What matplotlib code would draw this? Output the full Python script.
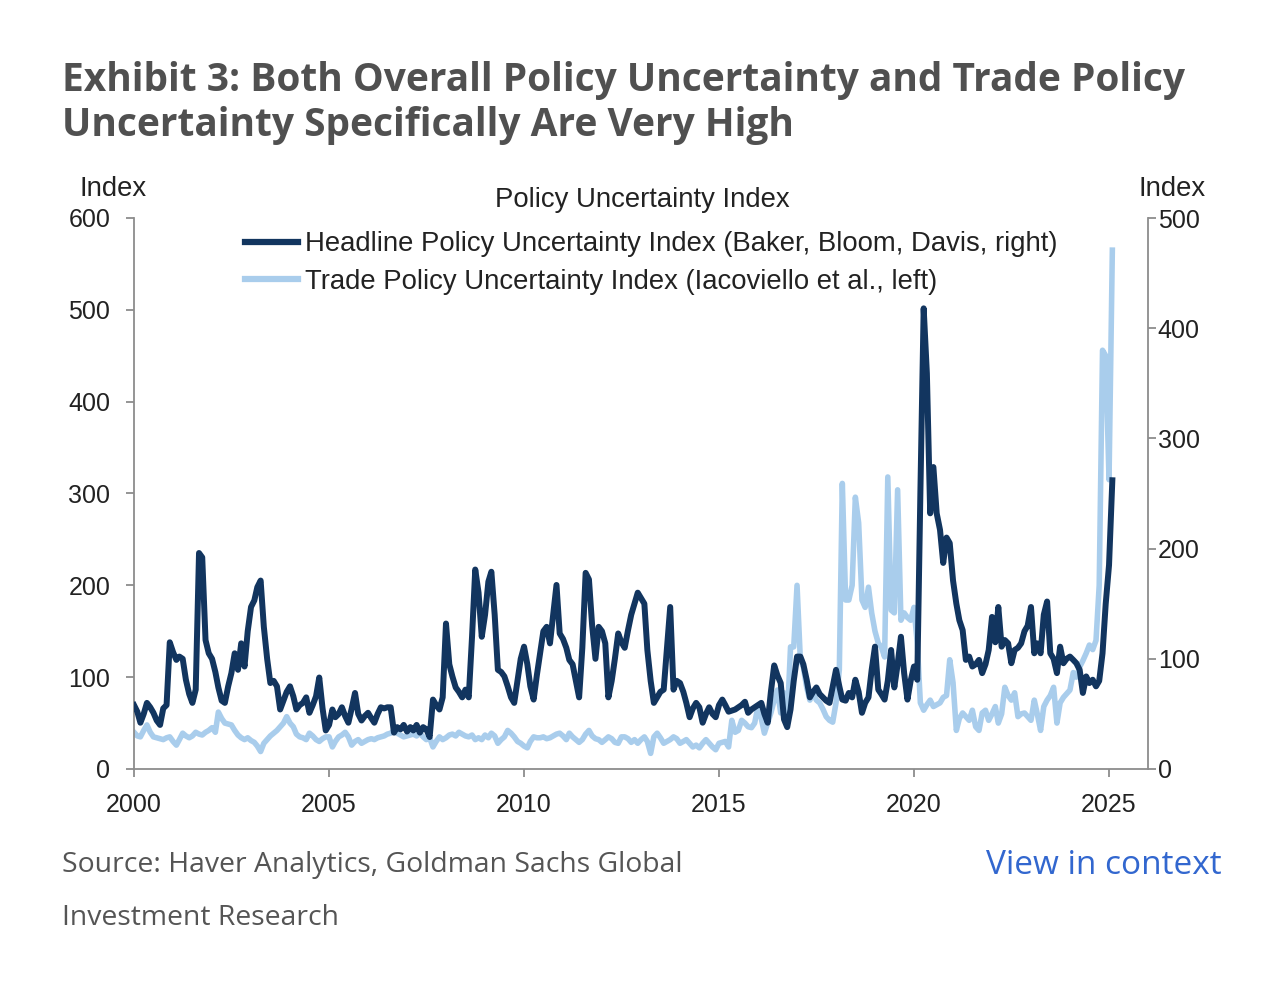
import numpy as np
import pandas as pd
import matplotlib
matplotlib.use("Agg")
import matplotlib.pyplot as plt
import matplotlib.dates as mdates
from matplotlib.lines import Line2D

# ---------------- data (monthly, Jan 2000 - Feb 2025) ----------------
# Headline Policy Uncertainty Index (Baker, Bloom, Davis) - right axis
headline = (
    [58, 52, 42, 50, 60, 56, 51, 44, 40, 55, 58, 115] +          # 2000
    [106, 99, 102, 100, 81, 68, 60, 72, 196, 192, 117, 105] +    # 2001
    [100, 88, 74, 62, 60, 75, 87, 105, 90, 114, 93, 125] +       # 2002
    [147, 153, 165, 171, 129, 100, 78, 80, 75, 54, 62, 70] +     # 2003
    [75, 66, 54, 58, 60, 65, 51, 58, 66, 83, 55, 35] +           # 2004
    [40, 54, 47, 50, 56, 48, 42, 55, 69, 50, 44, 48] +           # 2005
    [51, 46, 42, 50, 56, 55, 56, 56, 33, 38, 36, 40] +           # 2006
    [34, 38, 35, 40, 33, 38, 36, 29, 63, 58, 54, 65] +           # 2007
    [132, 95, 84, 74, 70, 65, 72, 65, 120, 181, 160, 120] +      # 2008
    [140, 170, 179, 140, 90, 88, 84, 75, 65, 60, 80, 100] +      # 2009
    [111, 95, 75, 63, 85, 105, 125, 129, 114, 140, 167, 123] +   # 2010
    [118, 110, 99, 95, 80, 65, 110, 178, 172, 130, 100, 129] +   # 2011
    [125, 114, 65, 80, 100, 123, 115, 110, 126, 140, 150, 160] + # 2012
    [155, 150, 108, 80, 60, 65, 70, 72, 110, 147, 72, 80] +      # 2013
    [78, 70, 60, 47, 55, 60, 56, 42, 50, 56, 50, 47] +           # 2014
    [58, 63, 58, 52, 53, 54, 56, 58, 61, 51, 54, 56] +           # 2015
    [58, 60, 50, 42, 70, 94, 85, 78, 45, 38, 54, 80] +           # 2016
    [102, 102, 95, 81, 65, 70, 74, 68, 65, 62, 60, 75] +         # 2017
    [90, 75, 63, 62, 69, 65, 81, 70, 51, 60, 65, 90] +           # 2018
    [111, 72, 68, 63, 80, 108, 74, 95, 120, 87, 63, 80] +        # 2019
    [93, 81, 250, 418, 359, 232, 274, 232, 217, 187, 210, 205] + # 2020
    [171, 150, 135, 126, 99, 102, 93, 95, 99, 87, 95, 108] +     # 2021
    [138, 115, 147, 111, 117, 114, 96, 108, 110, 114, 125, 130] +# 2022
    [147, 105, 114, 105, 140, 152, 105, 100, 87, 111, 96, 100] + # 2023
    [102, 99, 96, 90, 69, 84, 78, 81, 75, 80, 105, 150] +        # 2024
    [185, 262]                                                   # 2025
)

# Trade Policy Uncertainty Index (Iacoviello et al.) - left axis
trade = (
    [40, 36, 35, 42, 48, 40, 35, 34, 33, 32, 34, 35] +           # 2000
    [30, 26, 32, 39, 36, 34, 36, 40, 38, 37, 40, 42] +           # 2001
    [45, 40, 62, 55, 50, 49, 48, 42, 37, 34, 32, 34] +           # 2002
    [31, 29, 25, 19, 28, 32, 36, 39, 42, 46, 50, 57] +           # 2003
    [50, 46, 38, 35, 34, 32, 39, 36, 32, 30, 33, 35] +           # 2004
    [35, 24, 30, 35, 37, 40, 35, 26, 30, 32, 28, 30] +           # 2005
    [32, 33, 32, 34, 35, 36, 38, 39, 42, 39, 37, 35] +           # 2006
    [36, 37, 38, 36, 39, 35, 32, 34, 24, 30, 35, 32] +           # 2007
    [34, 37, 38, 36, 40, 38, 36, 35, 37, 32, 34, 32] +           # 2008
    [37, 34, 39, 36, 28, 32, 35, 42, 39, 35, 30, 28] +           # 2009
    [25, 23, 30, 35, 34, 34, 35, 33, 34, 36, 38, 39] +           # 2010
    [36, 32, 39, 35, 32, 29, 32, 38, 42, 36, 33, 32] +           # 2011
    [29, 32, 35, 33, 29, 28, 35, 35, 33, 29, 32, 28] +           # 2012
    [32, 35, 30, 17, 35, 39, 34, 28, 30, 32, 35, 33] +           # 2013
    [28, 30, 32, 28, 24, 26, 23, 28, 32, 28, 24, 21] +           # 2014
    [28, 29, 30, 24, 53, 40, 42, 53, 50, 46, 45, 50] +           # 2015
    [68, 55, 39, 50, 61, 75, 86, 61, 83, 53, 133, 133] +         # 2016
    [200, 119, 111, 89, 75, 83, 75, 72, 65, 57, 53, 51] +        # 2017
    [72, 108, 311, 184, 184, 200, 296, 268, 184, 176, 198, 170] +# 2018
    [150, 137, 133, 122, 318, 173, 170, 304, 162, 170, 165, 162] +# 2019
    [176, 137, 72, 64, 70, 75, 68, 70, 72, 78, 80, 119] +        # 2020
    [94, 42, 55, 61, 57, 53, 64, 46, 42, 61, 64, 53] +           # 2021
    [60, 68, 50, 60, 89, 80, 75, 83, 57, 60, 61, 57] +           # 2022
    [53, 75, 60, 42, 68, 75, 80, 89, 50, 72, 78, 82] +           # 2023
    [86, 105, 100, 111, 118, 126, 135, 130, 140, 200, 456, 450] +# 2024
    [315, 565]                                                   # 2025
)

start_month = "2000-01-01"
left_ticks = [0, 100, 200, 300, 400, 500, 600]
right_ticks = [0, 100, 200, 300, 400, 500]
labels = ["Headline Policy Uncertainty Index (Baker, Bloom, Davis, right)",
          "Trade Policy Uncertainty Index (Iacoviello et al., left)"]

dates = pd.date_range(start_month, periods=len(headline), freq="MS")

# ---------------- styling ----------------
DARK = "#12355f"
LIGHT = "#a9cdec"
GRAY = "#8c8c8c"
TXT = "#222222"
CHART_FONT = ["Liberation Sans", "DejaVu Sans"]
TITLE_FONT = ["Open Sans", "DejaVu Sans"]
FS_TICK = 18
FS = 19.8

plt.rcParams["font.family"] = CHART_FONT

fig = plt.figure(figsize=(12.84, 9.89), dpi=100)
fig.patch.set_facecolor("white")

W, H = 1284, 989
L, R, B, T = 134, 1148, 769, 218
ax = fig.add_axes([L / W, 1 - B / H, (R - L) / W, (B - T) / H])
ax2 = ax.twinx()

ax.plot(dates, trade, color=LIGHT, lw=4.0, solid_joinstyle="round", zorder=2)
ax2.plot(dates, headline, color=DARK, lw=4.3, solid_joinstyle="round", zorder=3)

ax.set_xlim(pd.Timestamp("2000-01-01"), pd.Timestamp("2026-01-01"))
ax.set_ylim(0, 600)
ax2.set_ylim(0, 500)
ax.set_yticks(left_ticks)
ax2.set_yticks(right_ticks)
ax.xaxis.set_major_locator(mdates.YearLocator(5))
ax.xaxis.set_major_formatter(mdates.DateFormatter("%Y"))

for a in (ax, ax2):
    for s in a.spines.values():
        s.set_color(GRAY)
        s.set_linewidth(1.3)
    a.spines["top"].set_visible(False)
ax.spines["right"].set_visible(False)
ax2.spines["left"].set_visible(False)
ax2.spines["bottom"].set_visible(False)

ax.tick_params(axis="y", direction="out", length=6, width=1.3, color=GRAY,
               labelsize=FS_TICK, labelcolor=TXT, pad=11)
ax.tick_params(axis="x", direction="out", length=6, width=1.3, color=GRAY,
               labelsize=FS_TICK, labelcolor=TXT, pad=11)
ax2.tick_params(axis="y", direction="out", length=6, width=1.3, color=GRAY,
                labelsize=FS_TICK, labelcolor=TXT, pad=1)

# legend
handles = [Line2D([0], [0], color=DARK, lw=4.5),
           Line2D([0], [0], color=LIGHT, lw=4.5)]
ax2.legend(handles, labels, loc="upper left", bbox_to_anchor=(0.109, 0.976),
           frameon=False, fontsize=FS, handlelength=1.95, handletextpad=0.25,
           labelspacing=0.42, borderpad=0, borderaxespad=0,
           labelcolor=TXT)

# chart captions
fig.text(642 / W, 1 - 200 / H, "Policy Uncertainty Index", ha="center", va="center",
         fontsize=FS, color=TXT)
fig.text(113 / W, 1 - 189 / H, "Index", ha="center", va="center", fontsize=FS, color=TXT)
fig.text(1172 / W, 1 - 189 / H, "Index", ha="center", va="center", fontsize=FS, color=TXT)

# title
fig.text(62 / W, 1 - 81 / H,
         "Exhibit 3: Both Overall Policy Uncertainty and Trade Policy",
         ha="left", va="center", fontsize=28, fontweight="bold", color="#505050",
         family=TITLE_FONT)
fig.text(62 / W, 1 - 125 / H,
         "Uncertainty Specifically Are Very High",
         ha="left", va="center", fontsize=28, fontweight="bold", color="#505050",
         family=TITLE_FONT)

# source / link
fig.text(62 / W, 1 - 865 / H, "Source: Haver Analytics, Goldman Sachs Global",
         ha="left", va="center", fontsize=20.4, color="#555555", family=TITLE_FONT)
fig.text(62 / W, 1 - 918 / H, "Investment Research",
         ha="left", va="center", fontsize=20.4, color="#555555", family=TITLE_FONT)
fig.text(1222 / W, 1 - 865 / H, "View in context",
         ha="right", va="center", fontsize=24, color="#3267cf", family=TITLE_FONT)

fig.savefig("out.png", dpi=100, facecolor="white")
